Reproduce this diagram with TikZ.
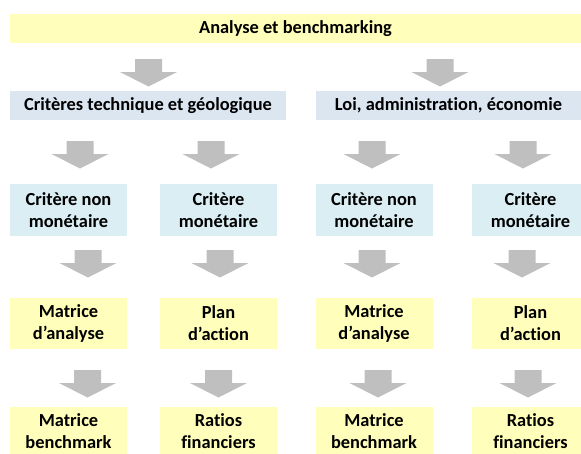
\documentclass[tikz,border=0pt]{standalone}
\usepackage{fontspec}
\setmainfont{Carlito}[Ligatures=NoCommon]
\definecolor{boxyellow}{HTML}{FFFFBB}
\definecolor{boxblue}{HTML}{DCE6F1}
\definecolor{boxaqua}{HTML}{DBEEF3}
\definecolor{arrowgray}{HTML}{BFBFBF}
\tikzset{
  lbl/.style={inner sep=0pt, align=center, font=\fontsize{18.4}{22}\selectfont\bfseries, text=black},
  yelbox/.style={lbl, fill=boxyellow, minimum width=117pt, minimum height=51pt},
  aquabox/.style={lbl, fill=boxaqua, minimum width=117pt, minimum height=52pt},
  widebox/.style={lbl, minimum height=29pt},
  barrow/.pic={\fill[arrowgray] (-13.5,0) -- (13.5,0) -- (13.5,13) -- (28.5,13) -- (0,27.5) -- (-28.5,13) -- (-13.5,13) -- cycle;}
}
\begin{document}
\begin{tikzpicture}[x=1pt,y=-1pt]
\useasboundingbox (0,0) rectangle (581,453);
\clip (0,0) rectangle (581,453);
% top
\node[widebox, fill=boxyellow, minimum width=571pt] (top) at (295.5,28.5) {Analyse et benchmarking};
% row 1 arrows
\pic at (148.5,59) {barrow};
\pic at (440,59) {barrow};
% row 2
\node[widebox, fill=boxblue, minimum width=276pt] (tech) at (148,105.5) {Critères technique et géologique};
\node[widebox, fill=boxblue, minimum width=265pt] (loi) at (448.5,105.5) {Loi, administration, économie};
% row 2 arrows
\pic at (80,141) {barrow};
\pic at (211,141) {barrow};
\pic at (372,141) {barrow};
\pic at (523,141) {barrow};
% row 3
\node[aquabox] (c1) at (68.5,210) {Critère non\\monétaire};
\node[aquabox] (c2) at (218.5,210) {Critère\\monétaire};
\node[aquabox] (c3) at (374,210) {Critère non\\monétaire};
\node[aquabox] (c4) at (530.5,210) {Critère\\monétaire};
% row 3 arrows
\pic at (88,250) {barrow};
\pic at (220,250) {barrow};
\pic at (372,250) {barrow};
\pic at (522,250) {barrow};
% row 4
\node[yelbox] (m1) at (68.5,323.5) {Matrice\\d’analyse};
\node[yelbox] (p1) at (218.5,323.5) {Plan\\d’action};
\node[yelbox] (m2) at (374,323.5) {Matrice\\d’analyse};
\node[yelbox] (p2) at (530.5,323.5) {Plan\\d’action};
% row 4 arrows
\pic at (87.5,370) {barrow};
\pic at (218.5,370) {barrow};
\pic at (378,370) {barrow};
\pic at (528,370) {barrow};
% row 5
\node[yelbox, minimum height=48pt] (b1) at (68.5,431) {Matrice\\benchmark};
\node[yelbox, minimum height=48pt] (r1) at (218.5,431) {Ratios\\financiers};
\node[yelbox, minimum height=48pt] (b2) at (374,431) {Matrice\\benchmark};
\node[yelbox, minimum height=48pt] (r2) at (530.5,431) {Ratios\\financiers};
\end{tikzpicture}
\end{document}
